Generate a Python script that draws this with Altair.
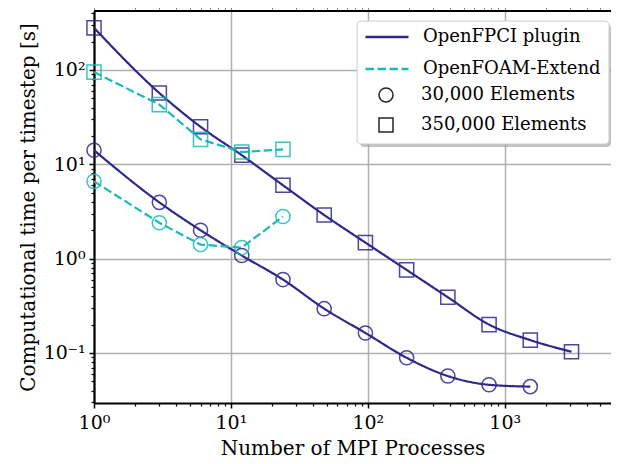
import altair as alt
import pandas as pd

# ---- data ----
procs_fpci_350k = [1, 3, 6, 12, 24, 48, 96, 192, 384, 768, 1536, 3072]
time_fpci_350k = [280, 57, 25, 12.5, 6.0, 2.9, 1.48, 0.76, 0.39, 0.20, 0.137, 0.103]
procs_fpci_30k = [1, 3, 6, 12, 24, 48, 96, 192, 384, 768, 1536]
time_fpci_30k = [14.1, 3.95, 2.0, 1.08, 0.60, 0.295, 0.163, 0.089, 0.057, 0.046, 0.044]
procs_foam_350k = [1, 3, 6, 12, 24]
time_foam_350k = [95, 43, 18.4, 13.5, 14.4]
procs_foam_30k = [1, 3, 6, 12, 24]
time_foam_30k = [6.6, 2.4, 1.41, 1.31, 2.8]

codes = ["OpenFPCI plugin", "OpenFOAM-Extend"]
sizes = ["30,000 Elements", "350,000 Elements"]
code_colors = ["#30278a", "#1db8bb"]

x_major = [1, 10, 100, 1000]
y_major = [0.1, 1, 10, 100]
x_minor = [m * 10 ** k for k in range(0, 4) for m in range(2, 10)]
y_minor = [m * 10.0 ** k for k in range(-2, 3) for m in range(2, 10)]

rows = []
for px, ty in zip(procs_fpci_350k, time_fpci_350k):
    rows.append({"p": px, "t": ty, "code": codes[0], "size": sizes[1]})
for px, ty in zip(procs_fpci_30k, time_fpci_30k):
    rows.append({"p": px, "t": ty, "code": codes[0], "size": sizes[0]})
for px, ty in zip(procs_foam_350k, time_foam_350k):
    rows.append({"p": px, "t": ty, "code": codes[1], "size": sizes[1]})
for px, ty in zip(procs_foam_30k, time_foam_30k):
    rows.append({"p": px, "t": ty, "code": codes[1], "size": sizes[0]})
df = pd.DataFrame(rows)

FONT = "DejaVu Serif"
W, H = 517, 392
xscale = alt.Scale(type="log", domain=[1, 5970], nice=False)
yscale = alt.Scale(type="log", domain=[0.0295, 422], nice=False)

x_label_expr = ("datum.value >= 999 ? '10³' : datum.value >= 99 ? '10²' : "
                "datum.value >= 9 ? '10¹' : '10⁰'")
y_label_expr = ("datum.value >= 99 ? '10²' : datum.value >= 9 ? '10¹' : "
                "datum.value >= 0.9 ? '10⁰' : '10⁻¹'")

x_major_axis = alt.Axis(values=x_major, labelExpr=x_label_expr, orient="bottom",
                        title="Number of MPI Processes", grid=True,
                        gridColor="#b0b0b0", gridWidth=1.5,
                        domain=True, domainColor="black", domainWidth=2.2,
                        tickColor="black", tickSize=5, tickWidth=1.5,
                        labelFlush=False, labelOverlap=False,
                        labelFont=FONT, labelFontSize=19, labelColor="black",
                        labelPadding=5, titleFont=FONT, titleFontSize=20,
                        titleFontWeight="normal", titleColor="black",
                        titleY=51, titleBaseline="alphabetic")
y_major_axis = alt.Axis(values=y_major, labelExpr=y_label_expr, orient="left",
                        title="Computational time per timestep [s]", grid=True,
                        gridColor="#b0b0b0", gridWidth=1.5,
                        domain=True, domainColor="black", domainWidth=2.2,
                        tickColor="black", tickSize=5, tickWidth=1.5,
                        labelFlush=False, labelOverlap=False,
                        labelFont=FONT, labelFontSize=19, labelColor="black",
                        labelPadding=4, titleFont=FONT, titleFontSize=20,
                        titleFontWeight="normal", titleColor="black", titlePadding=5)
x_minor_axis = alt.Axis(values=x_minor, orient="bottom", labels=False, title=None,
                        grid=False, domain=False, tickColor="black", tickSize=3,
                        tickWidth=1.2)
y_minor_axis = alt.Axis(values=y_minor, orient="left", labels=False, title=None,
                        grid=False, domain=False, tickColor="black", tickSize=3,
                        tickWidth=1.2)

base = alt.Chart(df)
one_row = alt.Data(values=[{"k": 1}])

# top spine of the frame
top_spine = alt.Chart(one_row).mark_rule(color="black", strokeWidth=2.2).encode(
    x=alt.value(0), x2=alt.value(W), y=alt.value(0)
)

# legend background box with shadow
box_shadow = alt.Chart(one_row).mark_rect(
    fill="#999999", opacity=0.6, cornerRadius=4
).encode(x=alt.value(266), x2=alt.value(W), y=alt.value(13), y2=alt.value(136))
box = alt.Chart(one_row).mark_rect(
    fill="white", stroke="#cccccc", strokeWidth=1, cornerRadius=4
).encode(x=alt.value(263), x2=alt.value(W - 2), y=alt.value(10), y2=alt.value(133))

dash_scale = alt.Scale(domain=codes, range=[[1, 0], [8.5, 3.5]])

lines_fpci = base.transform_filter(alt.datum.code == codes[0]).mark_line(
    strokeWidth=2.2, interpolate="monotone"
).encode(
    x=alt.X("p:Q", scale=xscale, axis=x_major_axis),
    y=alt.Y("t:Q", scale=yscale, axis=y_major_axis),
    color=alt.Color("code:N", scale=alt.Scale(domain=codes, range=code_colors),
                    legend=alt.Legend(title=None, orient="none", legendX=270, legendY=3,
                                      symbolType="stroke", symbolSize=1849,
                                      symbolStrokeWidth=2.5, labelOffset=13,
                                      labelFont=FONT, labelFontSize=18, labelLimit=400,
                                      labelColor="black", rowPadding=-4, padding=0)),
    strokeDash=alt.StrokeDash("code:N", scale=dash_scale),
    detail="size:N",
)
lines_foam = base.transform_filter(alt.datum.code == codes[1]).mark_line(
    strokeWidth=2.2
).encode(
    x=alt.X("p:Q", scale=xscale),
    y=alt.Y("t:Q", scale=yscale),
    color=alt.Color("code:N", scale=alt.Scale(domain=codes, range=code_colors)),
    strokeDash=alt.StrokeDash("code:N", scale=dash_scale),
    detail="size:N",
)

points = base.mark_point(filled=False, size=200, strokeWidth=1.5, opacity=0.85).encode(
    x=alt.X("p:Q", scale=xscale, axis=x_minor_axis),
    y=alt.Y("t:Q", scale=yscale, axis=y_minor_axis),
    stroke=alt.Stroke("code:N", scale=alt.Scale(domain=codes, range=code_colors),
                      legend=None),
    shape=alt.Shape("size:N", scale=alt.Scale(domain=sizes, range=["circle", "square"]),
                    legend=alt.Legend(title=None, orient="none", legendX=283, legendY=75,
                                      symbolSize=196, symbolStrokeColor="black",
                                      symbolFillColor="transparent",
                                      symbolStrokeWidth=1.5, labelOffset=26,
                                      labelFont=FONT, labelFontSize=18, labelLimit=400,
                                      labelColor="black", rowPadding=10, padding=0)),
)

chart = alt.layer(box_shadow, box, lines_fpci, lines_foam, points, top_spine).resolve_axis(
    x="independent", y="independent"
).resolve_scale(x="shared", y="shared").properties(
    width=W, height=H,
    autosize=alt.AutoSizeParams(type="none"),
    padding={"left": 86, "top": 3, "right": 0, "bottom": 53},
).configure_view(stroke=None)

chart.save("out.html", embed_options={"renderer": "svg", "actions": False})
